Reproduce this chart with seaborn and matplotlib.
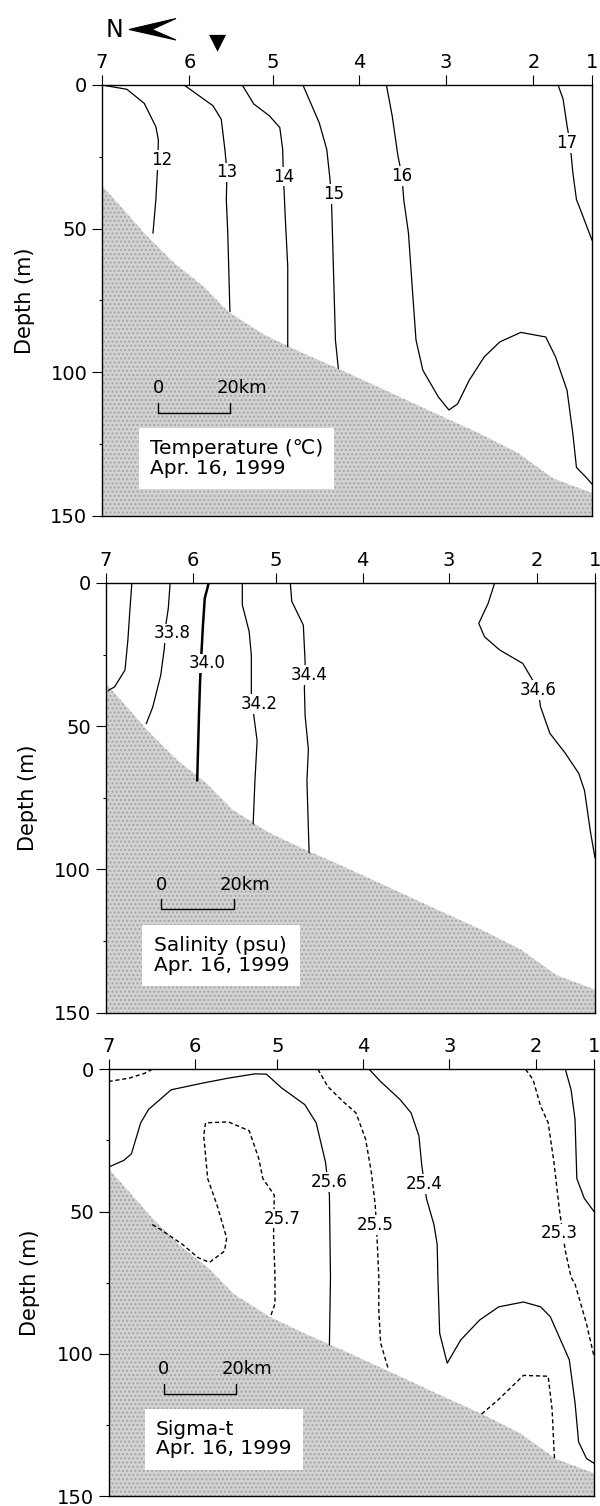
import matplotlib
matplotlib.use("Agg")
import matplotlib.pyplot as plt
import seaborn as sns
from matplotlib.patches import Polygon

# ---------------- data ----------------
station_labels = ['7', '6', '5', '4', '3', '2', '1']
station_km = [0, 24.2, 47.2, 71.2, 95.2, 119.4, 135.6]
depth_ticks = [0, 50, 100, 150]
depth_minor = [25, 75, 125]

bathy_km = [0, 5, 12, 20, 28, 35, 45, 55, 65, 78, 90, 104, 115, 125, 135.6]
bathy_depth = [35, 42, 52, 62, 70, 79, 87, 93, 98.5, 106, 113, 121, 128, 137, 142]

# Temperature contours (km from St.7, depth m)
t12_km = [0, 6.9, 11.7, 14.9, 15.6, 15.4, 14.9, 14.1]
t12_dep = [0, 1.5, 6.4, 14.5, 19.1, 28.4, 40.0, 51.6]
t13_km = [22.7, 30.7, 33.0, 34.0, 34.6, 34.4, 34.8, 35.4]
t13_dep = [0, 7.2, 11.9, 22.4, 30.2, 39.9, 51.4, 78.9]
t14_km = [38.8, 42.0, 46.3, 49.2, 50.0, 50.2, 50.5, 50.7, 51.4, 51.4]
t14_dep = [0, 6.6, 10.7, 14.8, 22.4, 31.7, 39.9, 45.7, 63.2, 91.1]
t15_km = [55.6, 60.1, 62.2, 63.1, 63.5, 63.9, 64.6, 65.4]
t15_dep = [0, 13.1, 22.4, 32.9, 39.9, 57.4, 88.8, 98.7]
t16_km = [78.7, 80.3, 81.9, 83.0, 83.5, 84.8, 86.1, 86.9, 88.8, 93.1, 96.0, 98.4,
          101.6, 105.8, 110.1, 115.9, 122.8, 125.5, 128.7, 130.3, 131.3, 134.0, 135.6]
t16_dep = [0, 10.7, 24.7, 31.4, 39.9, 51.4, 74.8, 88.8, 99.3, 108.6, 113.1, 111,
           102.8, 94.6, 89.4, 86.1, 87.7, 94.6, 106.3, 121.4, 133.1, 136.6, 138.9]
t17_km = [126.2, 127.6, 128.7, 129.5, 130.3, 131.3, 132.4, 135.6]
t17_dep = [0, 4.9, 14.2, 20, 30.5, 39.9, 43.4, 54]
temp_lab_text = ['12', '13', '14', '15', '16', '17']
temp_lab_km = [16.5, 34.6, 50.2, 64.1, 83.0, 128.7]
temp_lab_dep = [26.1, 30.4, 31.9, 37.9, 31.6, 20.3]

# Salinity contours
s336_km = [7.3, 6.7, 6.2, 5.4, 2.5, 0.8]
s336_dep = [0, 10.5, 19.9, 30.4, 36.3, 37.5]
s338_km = [17.9, 17.4, 16.7, 16.3, 15.3, 13.1, 11.3]
s338_dep = [0, 8.8, 14.7, 22.8, 32.2, 43.3, 49.1]
s340_km = [28.6, 27.5, 27.0, 26.6, 26.2, 25.9, 25.4]
s340_dep = [0, 5.3, 14.7, 24, 34.2, 45.9, 69]
s342_km = [37.9, 37.9, 39.8, 40.4, 40.4, 40.9, 42.0, 41.4, 40.9]
s342_dep = [0, 7.6, 17, 25.2, 39.3, 44.6, 55.1, 69, 84.2]
s344_km = [51.2, 51.6, 54.8, 55.3, 55.1, 55.3, 56.2, 55.8, 56.4]
s344_dep = [0, 6.4, 14.7, 27.6, 37, 46.4, 58.1, 69, 94.2]
s346_km = [107.8, 106.0, 103.4, 105.0, 109.2, 115.6, 119.9, 120.5, 123.1, 127.4,
           131.1, 132.7, 134.3, 135.6]
s346_dep = [0, 7.1, 14.1, 18.8, 23.4, 28.1, 37.3, 43.2, 52.5, 59.5, 66.5, 72.5, 86.6, 96]
sal_lab_text = ['33.8', '34.0', '34.2', '34.4', '34.6']
sal_lab_km = [18.5, 28.1, 42.5, 56.4, 119.9]
sal_lab_dep = [17.6, 28.1, 42.3, 32.1, 37.3]

# Sigma-t contours
g257a_km = [0, 5.8, 10.1, 12.2]
g257a_dep = [4.3, 3.1, 1.4, 0]
g256_km = [0, 4.3, 6.4, 9.0, 11.2, 17.5, 26.1, 33.5, 40.9, 44.1, 48.4, 54.8, 58.0,
           60.6, 61.7, 62.0, 61.7]
g256_dep = [34.4, 32, 29.7, 18.8, 14.1, 7.2, 4.9, 3.1, 1.6, 1.7, 6.6, 12.4, 18.8,
            32.6, 44.2, 73.1, 96.9]
g257_km = [12.2, 14.4, 20.7, 25.0, 28.2, 32.4, 33.0, 30.3, 27.7, 26.6, 27.1, 33.5,
           39.3, 42.0, 43.1, 46.3, 46.1, 46.5, 46.5, 45.2]
g257_dep = [54.6, 56.2, 61.6, 66.2, 67.9, 63.9, 59.3, 47.7, 38.4, 23.4, 18.8, 18.5,
            21.6, 31.5, 38.4, 44.2, 58.1, 73.1, 82.4, 87.1]
g255_km = [58.5, 61.2, 65.4, 69.1, 71.8, 73.4, 74.5, 75.0, 75.5, 75.5, 76.0, 78.2]
g255_dep = [0, 6, 11.2, 15.3, 24.5, 36.1, 47.7, 59.3, 73.1, 84.7, 96.2, 105.6]
g254_km = [72.8, 76.0, 81.4, 84.5, 86.7, 87.5, 88.8, 90.9, 91.8, 92.0, 92.5, 94.6,
           98.4, 103.7, 109.0, 115.9, 120.7, 123.4, 128.7, 130.3, 131.3, 133.5, 135.6]
g254_dep = [0, 4.3, 10.6, 15.3, 23.4, 33.8, 45.4, 54.6, 61.6, 73.1, 92.8, 103.3,
            95.1, 88.1, 83.5, 81.8, 83.5, 87, 102.1, 117.2, 131, 136.8, 138.5]
g255b_km = [104.2, 109.0, 115.9, 122.8, 123.9, 124.4, 124.6]
g255b_dep = [121.2, 116, 107.6, 107.9, 119.6, 133, 137.5]
g253_km = [116.5, 118.6, 120.7, 122.8, 124.4, 126.0, 127.6, 129.2, 130.3, 133.5, 135.6]
g253_dep = [0, 3.7, 13, 18.8, 32.6, 50, 63.9, 73.1, 75.5, 89.4, 100.9]
g252_km = [127.6, 129.2, 130.3, 130.8, 132.9, 135.6]
g252_dep = [0, 7.2, 17.6, 38.4, 45.4, 50]
sig_lab_text = ['25.6', '25.4', '25.7', '25.5', '25.3']
sig_lab_km = [61.7, 88.3, 48.4, 74.4, 126.0]
sig_lab_dep = [39.7, 40.3, 52.5, 54.8, 57.7]

panel_titles = ['Temperature (\u2103)\nApr. 16, 1999',
                'Salinity (psu)\nApr. 16, 1999',
                'Sigma-t\nApr. 16, 1999']
scalebar_km0 = 15.5
scalebar_len = 20

# ---------------- style ----------------
sns.set_theme(style="white")
plt.rcParams['font.family'] = ['DejaVu Sans']
plt.rcParams['text.color'] = 'black'
plt.rcParams['axes.labelcolor'] = 'black'
plt.rcParams['xtick.color'] = 'black'
plt.rcParams['ytick.color'] = 'black'
plt.rcParams['axes.edgecolor'] = 'black'
plt.rcParams['axes.linewidth'] = 1.0

fig = plt.figure(figsize=(6, 15.06), dpi=100)
W, H = 600, 1506
boxes = [(102, 592, 85, 516), (105.5, 595, 583, 1012.5), (108.5, 594, 1069.3, 1496)]
ylabel_x = [25, 28, 30]
axes = []
for (l, r, t, b) in boxes:
    axes.append(fig.add_axes([l / W, 1 - b / H, (r - l) / W, (b - t) / H]))

DASH = (0, (3, 2))


def line(ax, km, dep, dashed=False, lw=0.9):
    sns.lineplot(x=km, y=dep, sort=False, estimator=None, ax=ax, color='black',
                 lw=lw, linestyle=DASH if dashed else '-', zorder=3)


for i, ax in enumerate(axes):
    ax.fill_between(bathy_km, bathy_depth, 150, facecolor='#d3d3d3',
                    edgecolor='#a5a5a5', hatch='....', linewidth=0, zorder=1)

# Temperature
ax = axes[0]
for km, dep in [(t12_km, t12_dep), (t13_km, t13_dep), (t14_km, t14_dep),
                (t15_km, t15_dep), (t16_km, t16_dep), (t17_km, t17_dep)]:
    line(ax, km, dep)
for s, x, y in zip(temp_lab_text, temp_lab_km, temp_lab_dep):
    ax.text(x, y, s, ha='center', va='center', fontsize=12, zorder=4, color='black',
            bbox=dict(fc='white', ec='none', pad=0.6))

# Salinity
ax = axes[1]
for km, dep, lw in [(s336_km, s336_dep, 0.9), (s338_km, s338_dep, 0.9),
                    (s340_km, s340_dep, 1.8), (s342_km, s342_dep, 0.9),
                    (s344_km, s344_dep, 0.9), (s346_km, s346_dep, 0.9)]:
    line(ax, km, dep, lw=lw)
for s, x, y in zip(sal_lab_text, sal_lab_km, sal_lab_dep):
    ax.text(x, y, s, ha='center', va='center', fontsize=12, zorder=4, color='black',
            bbox=dict(fc='white', ec='none', pad=0.6))

# Sigma-t
ax = axes[2]
for km, dep, d in [(g257a_km, g257a_dep, True), (g256_km, g256_dep, False),
                   (g257_km, g257_dep, True), (g255_km, g255_dep, True),
                   (g254_km, g254_dep, False), (g255b_km, g255b_dep, True),
                   (g253_km, g253_dep, True), (g252_km, g252_dep, False)]:
    line(ax, km, dep, dashed=d, lw=1.0 if d else 0.9)
for s, x, y in zip(sig_lab_text, sig_lab_km, sig_lab_dep):
    ax.text(x, y, s, ha='center', va='center', fontsize=12, zorder=4, color='black',
            bbox=dict(fc='white', ec='none', pad=0.6))

for i, ax in enumerate(axes):
    ax.set_xlim(station_km[0], station_km[-1])
    ax.set_ylim(150, 0)
    ax.xaxis.tick_top()
    ax.set_xticks(station_km)
    ax.set_xticklabels(station_labels)
    ax.set_yticks(depth_ticks)
    ax.set_yticks(depth_minor, minor=True)
    ax.tick_params(axis='x', which='major', direction='out', length=7.5, width=0.8,
                   pad=2, labelsize=14, top=True, bottom=False, colors='black')
    ax.tick_params(axis='y', which='major', direction='out', length=7, width=0.8,
                   pad=3.5, labelsize=14, left=True, colors='black')
    ax.tick_params(axis='y', which='minor', direction='out', length=2.5, width=0.8,
                   left=True)
    ax.set_xlabel('')
    ax.set_ylabel('Depth (m)', fontsize=15, color='black')
    ax.yaxis.label.set_verticalalignment('center')
    l, r, t, b = boxes[i]
    ax.yaxis.set_label_coords((ylabel_x[i] - l) / (r - l), 0.5)
    for sp in ax.spines.values():
        sp.set_visible(True)
        sp.set_color('black')
        sp.set_linewidth(1.0)
        sp.set_zorder(5)
    # title box
    ax.text(13.3, 130.0, panel_titles[i], ha='left', va='center', fontsize=14.5,
            linespacing=1.05, zorder=4, color='black',
            bbox=dict(boxstyle='square,pad=0.55', fc='white', ec='none'))
    # scale bar
    x0, x1 = scalebar_km0, scalebar_km0 + scalebar_len
    ax.plot([x0, x0, x1, x1], [110.5, 114, 114, 110.5], color='black', lw=1.0, zorder=4)
    ax.text(x0, 108.5, '0', ha='center', va='bottom', fontsize=13, zorder=4, color='black')
    ax.text(x1 - 3.8, 108.5, '20km', ha='left', va='bottom', fontsize=13, zorder=4,
            color='black')

# north arrow and station marker above top panel
fig.text(114 / W, 1 - 30 / H, 'N', ha='center', va='center', fontsize=17, color='black')
arrow = Polygon([(129 / W, 1 - 29.5 / H), (176 / W, 1 - 18.5 / H), (152 / W, 1 - 29.5 / H),
                 (176 / W, 1 - 40 / H)], closed=True, transform=fig.transFigure,
                facecolor='black', edgecolor='black', lw=0.8)
fig.patches.append(arrow)
fig.text(217 / W, 1 - 42 / H, '\u25BC', ha='center', va='center', fontsize=16, color='black')

fig.savefig('out.png', dpi=100)
